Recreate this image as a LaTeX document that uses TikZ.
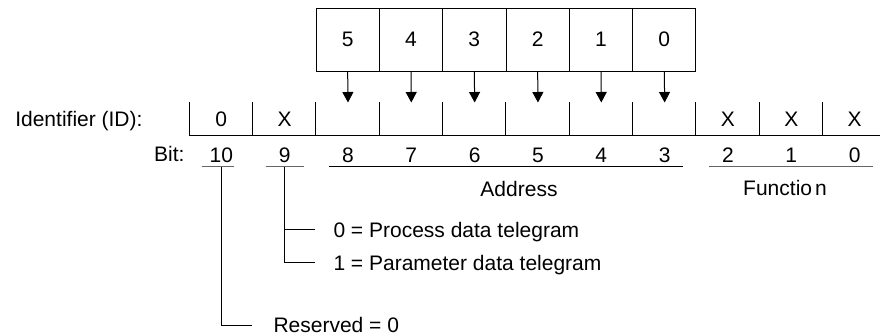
\documentclass[tikz,border=0pt]{standalone}
\usepackage{fontspec}
\setmainfont{Liberation Sans}
\usetikzlibrary{arrows.meta}
\begin{document}
\begin{tikzpicture}[x=1pt,y=-1pt,line width=1pt,
  every node/.style={font=\fontsize{21}{25}\selectfont,inner sep=0pt},
  srcbox/.style={draw,minimum width=63.33pt,minimum height=63.33pt},
  idcell/.style={minimum width=63.33pt,minimum height=32pt},
  feed/.style={-{Triangle[width=11pt,length=10.5pt]}},
  darkbar/.style={black},
  lightbar/.style={black!60},
  leadtext/.style={anchor=west,text height=15pt,text depth=0pt}]
\useasboundingbox (0,0) rectangle (880,336);

% source bits 5..0
\foreach \i [count=\k from 0] in {5,4,3,2,1,0}
  \node[srcbox] (t\i) at (347.67+63.33*\k,39.67) {\i};

% identifier cells, bit 10 down to bit 0
\foreach \b/\v [count=\k from 0] in {10/0,9/X,8/,7/,6/,5/,4/,3/,2/X,1/X,0/X}
  \node[idcell] (c\b) at (221.33+63.33*\k,119) {\v};
\foreach \b in {10,9,...,0}
  \draw (c\b.north west) -- (c\b.south west);
\draw (c10.south west) -- (c0.south east);

% feed arrows into bits 8..3
\foreach \i/\b in {5/8,4/7,3/6,2/5,1/4,0/3}
  \draw[feed] (t\i.south) -- (c\b.north);

% row captions
\node[anchor=base east] (idlab) at (143,127) {Identifier (ID):};
\node[anchor=base east] (bitlab) at (185,162) {Bit:};

% bit numbers
\foreach \b [count=\k from 0] in {10,9,...,0}
  \node (b\b) at (221.33+63.33*\k,155) {\b};

% underlines
\coordinate (u10a) at (202,167); \coordinate (u10b) at (234,167);
\coordinate (u9a) at (266,167);  \coordinate (u9b) at (304,167);
\coordinate (uadra) at (329,167); \coordinate (uadrb) at (683,167);
\coordinate (ufna) at (709,167); \coordinate (ufnb) at (873,167);
\draw[lightbar] (u10a) -- (u10b);
\draw[lightbar] (u9a) -- (u9b);
\draw[darkbar] (uadra) -- (uadrb);
\draw[lightbar] (ufna) -- (ufnb);

% group captions
\node[anchor=base] (adr) at (519,197) {Address};
\node[anchor=base] (fn) at (785,196) {Functio\kern3pt n};

% meaning of bits 9 and 10
\coordinate (l9) at (284.5,167);
\coordinate (l10) at (221.5,167);
\node[leadtext] (p0) at (333,230) {0 = Process data telegram};
\node[leadtext] (p1) at (333,263) {1 = Parameter data telegram};
\node[leadtext] (res) at (273,325.5) {Reserved = 0};
\draw (l9) |- ([xshift=-18pt]p0.west);
\draw (l9) |- ([xshift=-18pt]p1.west);
\draw (l10) |- ([xshift=-21pt]res.west);
\end{tikzpicture}
\end{document}
